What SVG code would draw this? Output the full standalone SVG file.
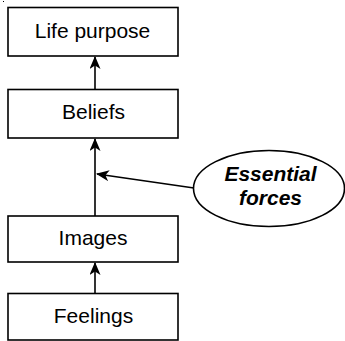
<svg xmlns="http://www.w3.org/2000/svg" width="345" height="341" viewBox="0 0 345 341">
<style>
.box{fill:#fff;stroke:#000;stroke-width:1.6}
.lbl{font-family:"Liberation Sans",Arial,sans-serif;font-size:21px;fill:#000;text-anchor:middle}
.bi{font-weight:bold;font-style:italic}
.con{stroke:#000;stroke-width:1.6;fill:none;marker-end:url(#ah)}
</style>
<defs>
<marker id="ah" markerWidth="13" markerHeight="11" refX="12" refY="5.5" orient="auto" markerUnits="userSpaceOnUse">
<path d="M0,0 L13,5.5 L0,11 L3.5,5.5 z" fill="#000"/>
</marker>
</defs>
<rect x="3" y="1" width="1" height="1" fill="#000"/>
<g id="connectors">
<line class="con" x1="95" y1="89" x2="95" y2="57"/>
<line class="con" x1="95" y1="216" x2="95" y2="139"/>
<line class="con" x1="194" y1="188" x2="97" y2="174"/>
<line class="con" x1="95" y1="293" x2="95" y2="263"/>
</g>
<g id="life-purpose">
<rect class="box" x="8" y="7.5" width="170" height="48.5"/>
<text class="lbl" x="92.5" y="37.5">Life purpose</text>
</g>
<g id="beliefs">
<rect class="box" x="8" y="89.5" width="170" height="48.5"/>
<text class="lbl" x="93.5" y="119">Beliefs</text>
</g>
<g id="images">
<rect class="box" x="8" y="216" width="170" height="46"/>
<text class="lbl" x="93" y="245">Images</text>
</g>
<g id="feelings">
<rect class="box" x="8" y="293.5" width="170" height="46.5"/>
<text class="lbl" x="93.5" y="322.5">Feelings</text>
</g>
<g id="essential-forces">
<ellipse class="box" cx="269" cy="188.5" rx="75.5" ry="38"/>
<text class="lbl bi" x="270.5" y="181">Essential</text>
<text class="lbl bi" x="270.5" y="205">forces</text>
</g>
</svg>
